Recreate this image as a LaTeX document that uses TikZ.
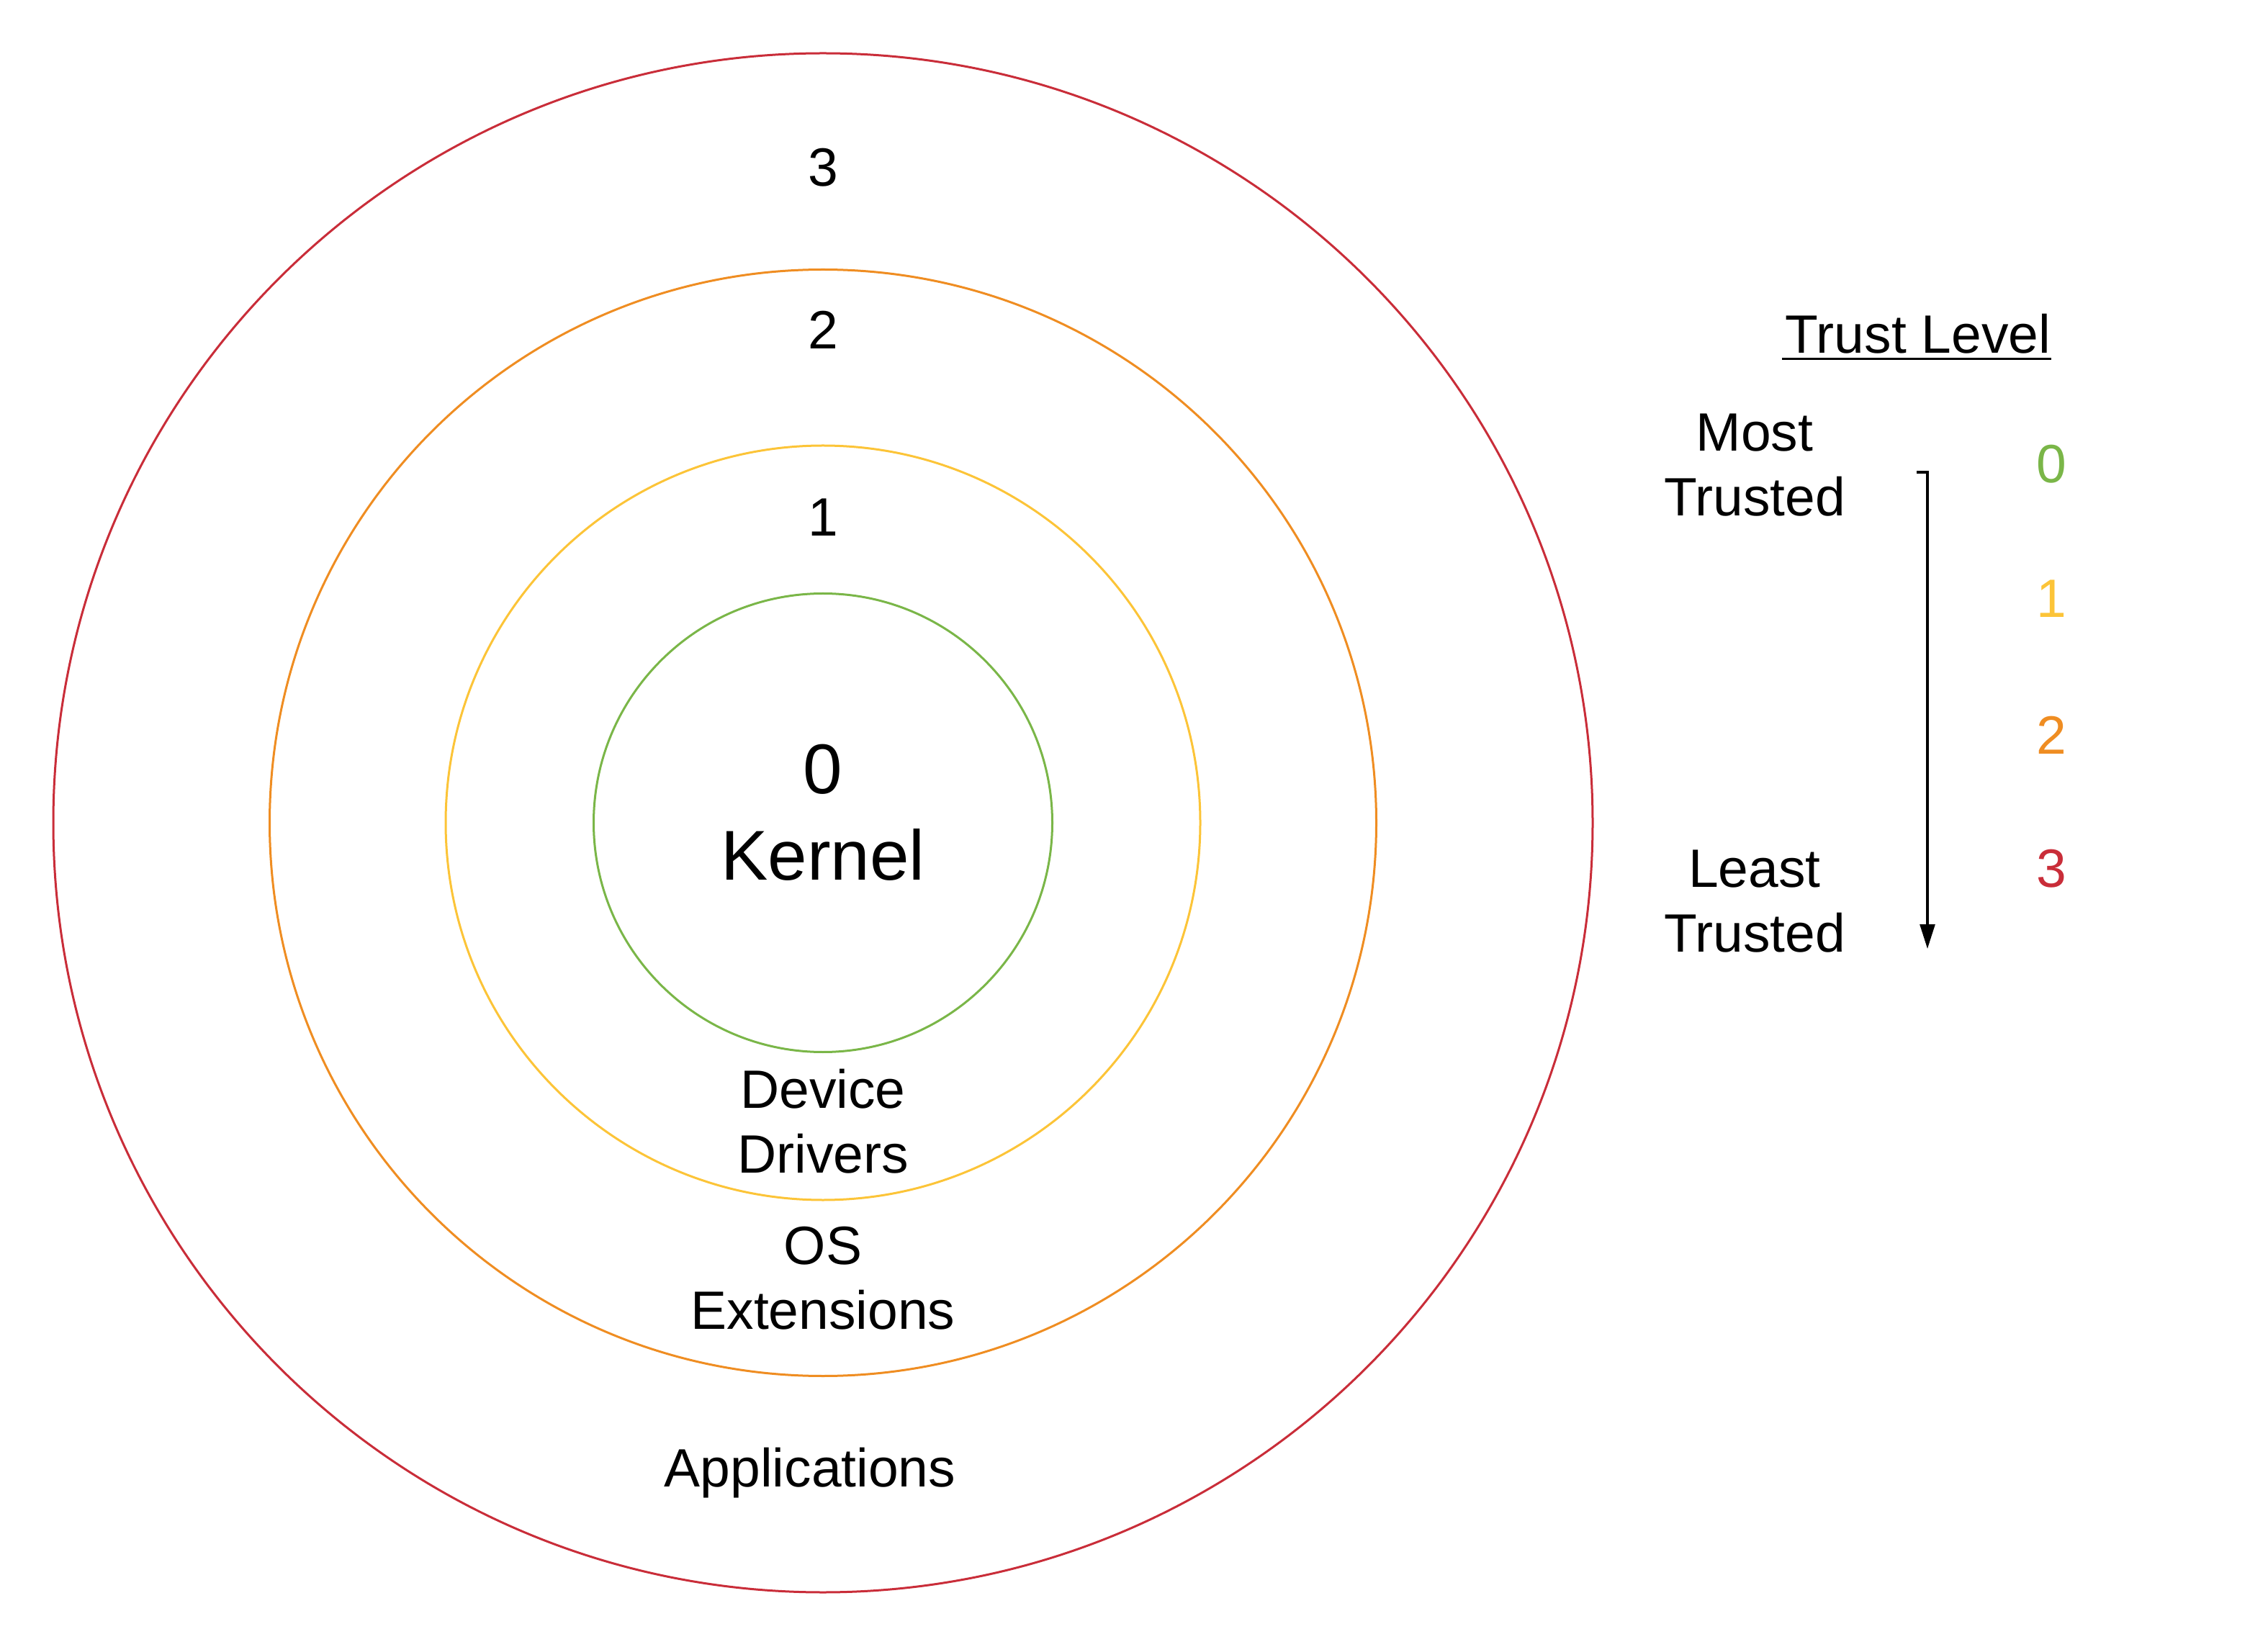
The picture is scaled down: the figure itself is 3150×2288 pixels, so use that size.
\documentclass[tikz,border=0pt]{standalone}
\usepackage{fontspec}
\setmainfont{Liberation Sans}
\usetikzlibrary{arrows.meta}
\definecolor{lred}{HTML}{C92D39}
\definecolor{lorange}{HTML}{EF8D22}
\definecolor{lyellow}{HTML}{FCC438}
\definecolor{lgreen}{HTML}{7AB648}
\tikzset{
  ring/.style={draw=#1, circle, inner sep=0pt, line width=0.75pt},
  lbl/.style={align=center, inner sep=0pt, font=\fontsize{18.75}{22.5}\selectfont},
  biglbl/.style={align=center, inner sep=0pt, font=\fontsize{24.5}{30}\selectfont},
  conn/.style={line width=0.8pt, -{Triangle[length=8.5pt,width=5.2pt]}}
}
\begin{document}
\begin{tikzpicture}[x=0.25pt, y=-0.25pt]
\useasboundingbox (0,0) rectangle (3150,2288);
% rings
\node[ring=lred, minimum size=534.5pt] (r3) at (1143,1143) {};
\node[ring=lorange, minimum size=384.25pt] (r2) at (1143,1143) {};
\node[ring=lyellow, minimum size=262pt] (r1) at (1143,1143) {};
\node[ring=lgreen, minimum size=159.25pt] (r0) at (1143,1143) {};
% ring labels
\node[lbl] (n3) at (1143,233) {3};
\node[lbl] (n2) at (1143,458) {2};
\node[lbl] (n1) at (1143,719) {1};
\node[biglbl] (kern) at (1143,1129) {0\\Kernel};
\node[lbl] (dev) at (1143,1558) {Device\\Drivers};
\node[lbl] (osx) at (1143,1776) {OS\\Extensions};
\node[lbl] (app) at (1125,2046) {Applications};
% legend
\node[lbl] (tl) at (2664,464) {Trust Level};
\draw[line width=0.75pt] (tl.base west) ++(-4,8) coordinate (ul1) -- (tl.base east |- ul1);
\node[lbl] (most) at (2437,646) {Most\\Trusted};
\node[lbl] (least) at (2437,1252) {Least\\Trusted};
\node[lbl, text=lgreen] (d0) at (2849,645) {0};
\node[lbl, text=lyellow] (d1) at (2849,832) {1};
\node[lbl, text=lorange] (d2) at (2849,1021) {2};
\node[lbl, text=lred] (d3) at (2849,1207) {3};
\coordinate (tick) at (2662,656);
\coordinate (atop) at (2677,656);
\coordinate (abot) at (2677,1318);
\draw[conn] (tick) -- (atop) -- (abot);
\end{tikzpicture}
\end{document}
